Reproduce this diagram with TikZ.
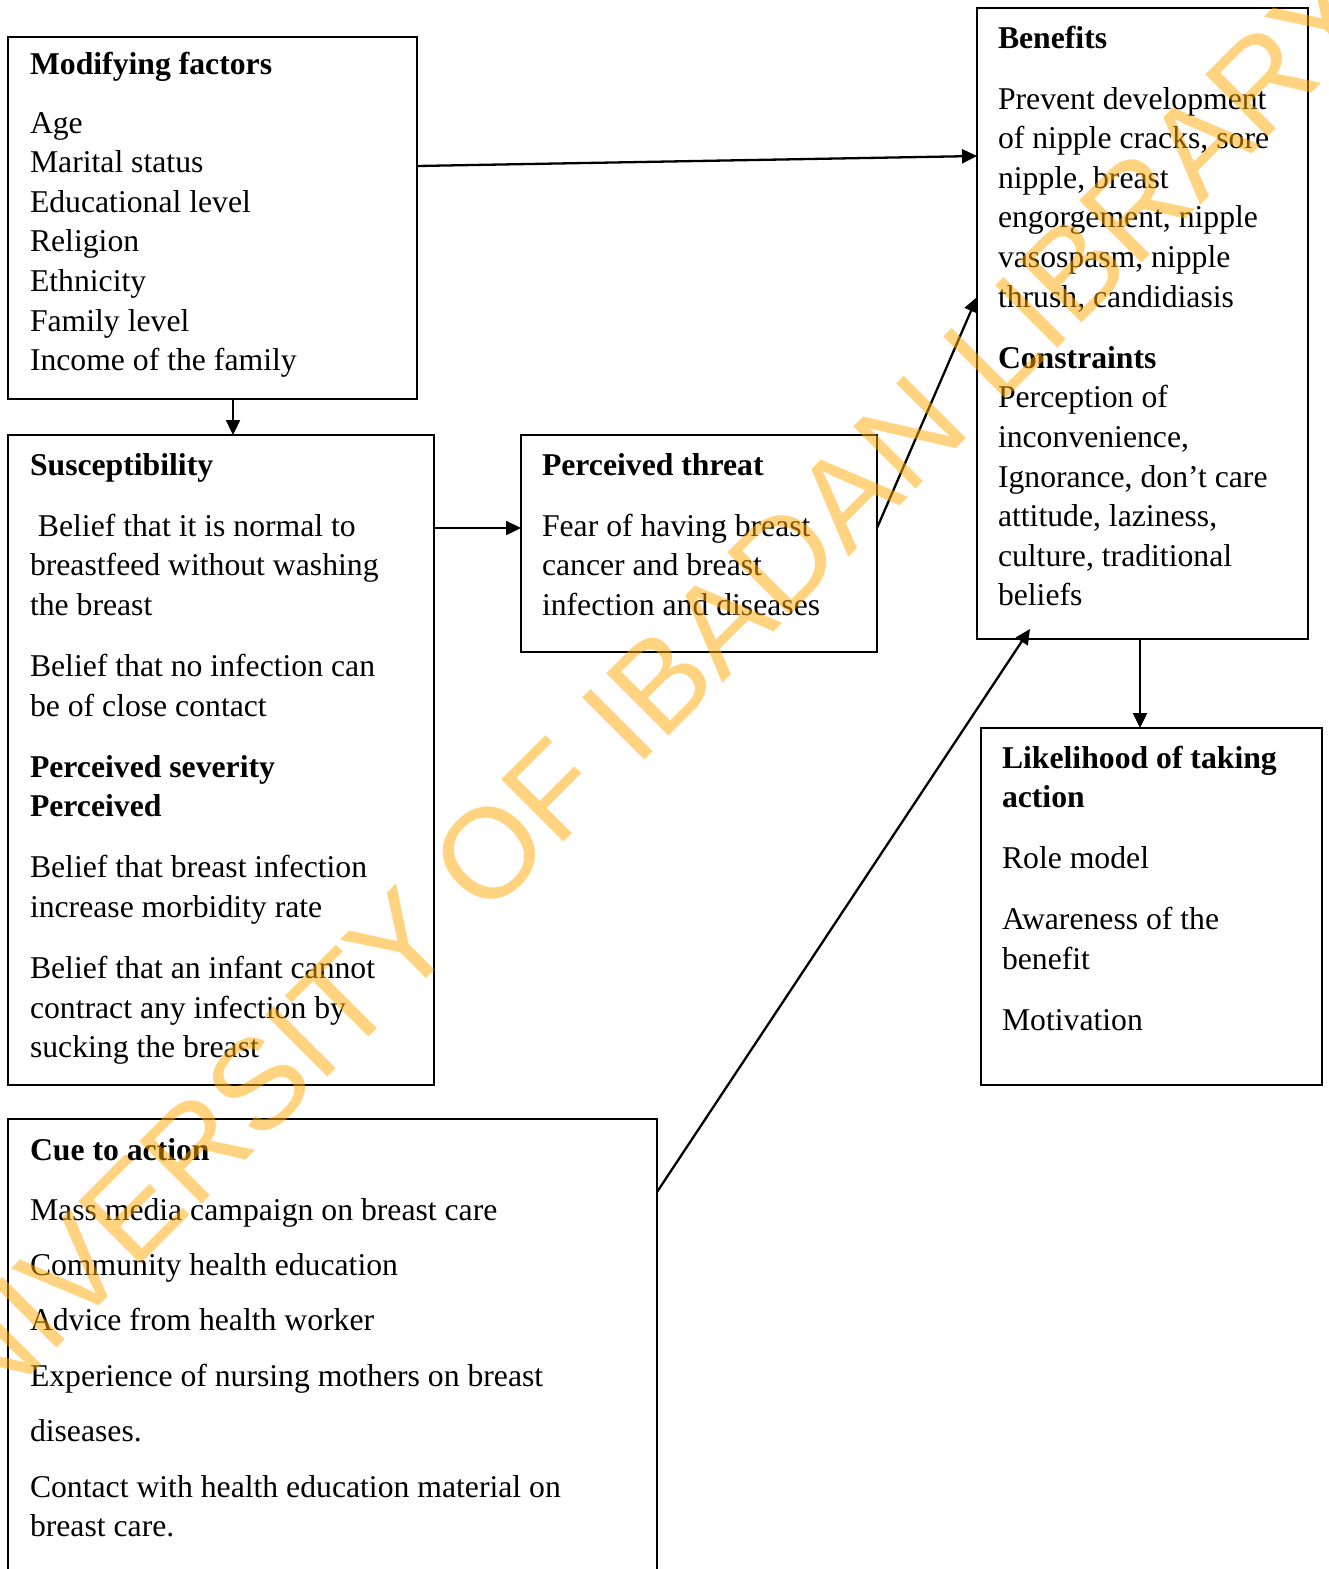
\documentclass[tikz,border=0pt]{standalone}
\usepackage{fontspec}
\setmainfont{Liberation Serif}
\newfontfamily\wmfont{Liberation Sans}
\usetikzlibrary{arrows.meta}
\definecolor{wmcol}{RGB}{255,168,0}
\newcommand\txtlines[1]{\begin{tabular}[t]{@{}l@{}}#1\end{tabular}}
\begin{document}
\begin{tikzpicture}[x=1pt,y=-1pt,
  box/.style={draw, line width=2.2pt, rectangle, inner sep=0pt, outer sep=0pt, anchor=north west},
  txt/.style={anchor=base west, inner sep=0pt, outer sep=0pt, font=\fontsize{31.7}{39.6}\selectfont},
  arr/.style={line width=2.3pt, -{Triangle[length=15pt,width=14pt]}},
  wm/.style={rotate=45, inner sep=0pt, text=wmcol, text opacity=0.5, font=\wmfont\fontsize{128}{128}\selectfont}]
\useasboundingbox (0,0) rectangle (1329,1569);
\clip (0,0) rectangle (1329,1569);
\fill[white] (0,0) rectangle (1329,1569);

% boxes
\node[box, minimum width=409pt, minimum height=362pt] (mod) at (8,37) {};
\node[box, minimum width=426pt, minimum height=650pt] (susc) at (8,435) {};
\node[box, minimum width=356pt, minimum height=217pt] (threat) at (521,435) {};
\node[box, minimum width=331pt, minimum height=631pt] (ben) at (977,8) {};
\node[box, minimum width=341pt, minimum height=357pt] (lik) at (981,728) {};
\node[box, minimum width=649pt, minimum height=480pt] (cue) at (8,1119) {};

% texts
\node[txt] (modt) at (30,74) {\txtlines{\textbf{Modifying factors}\\[19.4pt]
Age\\ Marital status\\ Educational level\\ Religion\\ Ethnicity\\ Family level\\ Income of the family}};

\node[txt] (susct) at (30,475) {\txtlines{\textbf{Susceptibility}\\[21.5pt]
\ Belief that it is normal to\\
breastfeed without washing\\
the breast\\[21.5pt]
Belief that no infection can\\
be of close contact\\[21.5pt]
\textbf{Perceived severity}\\
\textbf{Perceived}\\[21.5pt]
Belief that breast infection\\
increase morbidity rate\\[21.5pt]
Belief that an infant cannot\\
contract any infection by\\
sucking the breast}};

\node[txt] (threatt) at (542,475) {\txtlines{\textbf{Perceived threat}\\[21.5pt]
Fear of having breast\\ cancer and breast\\ infection and diseases}};

\node[txt] (bent) at (998,48) {\txtlines{\textbf{Benefits}\\[21.5pt]
Prevent development\\ of nipple cracks, sore\\ nipple, breast\\ engorgement, nipple\\ vasospasm, nipple\\ thrush, candidiasis\\[21.5pt]
\textbf{Constraints}\\ Perception of\\ inconvenience,\\ Ignorance, don’t care\\ attitude, laziness,\\ culture, traditional\\ beliefs}};

\node[txt] (likt) at (1002,768) {\txtlines{\textbf{Likelihood of taking}\\ \textbf{action}\\[21.5pt]
Role model\\[21.5pt] Awareness of the\\ benefit\\[21.5pt] Motivation}};

\node[txt] (cuet) at (30,1160) {\txtlines{\textbf{Cue to action}\\[20.4pt]
Mass media campaign on breast care\\[15.8pt]
Community health education\\[15.8pt]
Advice from health worker\\[15.8pt]
Experience of nursing mothers on breast\\[15.8pt]
diseases.\\[15.8pt]
Contact with health education material on\\
breast care.}};

% connectors
\draw[arr] ([yshift=52pt]mod.east) -- ([yshift=167.5pt]ben.west);
\draw[arr] ([xshift=20.5pt]mod.south) -- ([xshift=12pt]susc.north);
\draw[arr] ([yshift=232pt]susc.east) -- ([yshift=15.5pt]threat.west);
\draw[arr] ([yshift=15.5pt]threat.east) -- ([yshift=26.5pt]ben.west);
\draw[arr] ([xshift=-2.5pt]ben.south) -- ([xshift=-11.5pt]lik.north);
\draw[arr] ([yshift=-73pt]cue.north east) -- ([xshift=-112.5pt,yshift=10pt]ben.south);

% watermark
\node[wm] (wmark) at (620,723) {UNIVERSITY OF IBADAN LIBRARY};
\end{tikzpicture}
\end{document}
